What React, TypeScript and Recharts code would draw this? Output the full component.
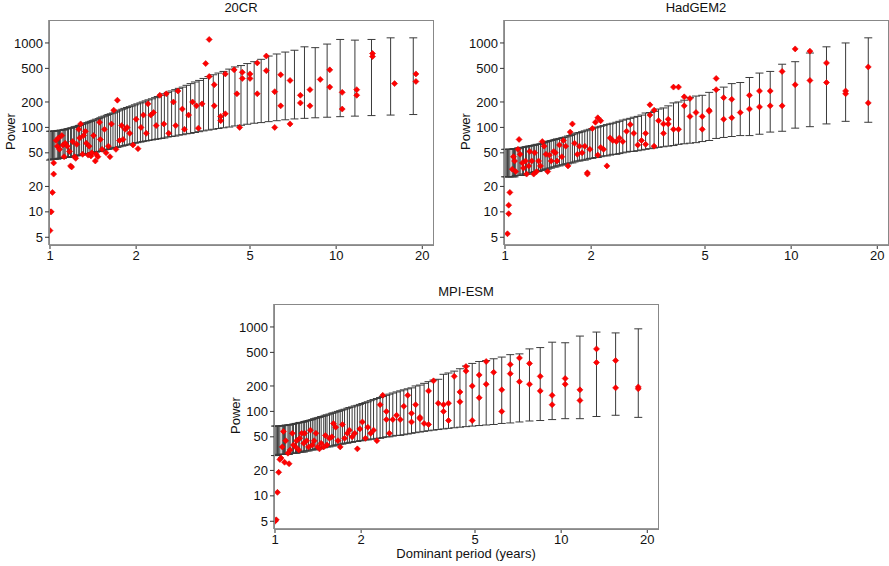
import React from 'react';
import { ScatterChart, Scatter, XAxis, YAxis, ErrorBar } from 'recharts';

const periods = [
  18.6, 15.5, 13.29, 11.63, 10.33, 9.3, 8.45, 7.75, 7.15, 6.64,
  6.2, 5.81, 5.47, 5.17, 4.89, 4.65, 4.43, 4.23, 4.04, 3.88,
  3.72, 3.58, 3.44, 3.32, 3.21, 3.1, 3, 2.91, 2.82, 2.74,
  2.66, 2.58, 2.51, 2.45, 2.38, 2.33, 2.27, 2.21, 2.16, 2.11,
  2.07, 2.02, 1.98, 1.94, 1.9, 1.86, 1.82, 1.79, 1.75, 1.72,
  1.69, 1.66, 1.63, 1.6, 1.58, 1.55, 1.52, 1.5, 1.48, 1.45,
  1.43, 1.41, 1.39, 1.37, 1.35, 1.33, 1.31, 1.29, 1.27, 1.26,
  1.24, 1.22, 1.21, 1.19, 1.18, 1.16, 1.15, 1.13, 1.12, 1.11,
  1.09, 1.08, 1.07, 1.06, 1.04, 1.03, 1.02, 1.01, 1,
];

const lower20CR = [
  142, 140, 138, 136, 134, 132, 130, 128, 126, 123,
  120, 117, 114, 112, 109, 106, 104, 101, 99, 97,
  95, 93, 91, 89, 87, 85, 84, 82, 81, 79,
  78, 77, 75, 74, 73, 72, 71, 70, 69, 68,
  67, 66, 65, 64, 63, 62, 61, 60, 59, 58,
  58, 57, 56, 55, 55, 54, 53, 52, 52, 51,
  51, 50, 50, 49, 49, 48, 48, 47, 47, 47,
  46, 46, 45, 45, 45, 44, 44, 44, 44, 43,
  43, 43, 43, 42, 42, 42, 42, 42, 41,
];
const upper20CR = [
  1150, 1150, 1100, 1080, 1100, 970, 880, 900, 820, 780,
  740, 700, 640, 600, 570, 540, 520, 490, 460, 440,
  420, 400, 380, 360, 345, 330, 315, 300, 290, 280,
  270, 260, 250, 240, 232, 225, 218, 212, 206, 200,
  195, 190, 185, 180, 176, 172, 168, 164, 160, 156,
  152, 148, 145, 142, 139, 136, 133, 130, 127, 125,
  122, 120, 118, 116, 114, 112, 110, 108, 106, 105,
  103, 102, 100, 99, 98, 97, 96, 95, 94, 93,
  93, 92, 92, 91, 91, 90, 90, 90, 90,
];
const lowerHad = [
  115, 118, 110, 102, 98, 90, 88, 83, 80, 80,
  78, 76, 74, 70, 68, 66, 65, 64, 63, 61,
  60, 59, 58, 57, 56, 55, 54, 53, 52, 52,
  51, 50, 49, 48, 48, 47, 46, 46, 45, 44,
  44, 43, 43, 42, 41, 41, 40, 40, 39, 38,
  38, 37, 37, 36, 36, 35, 35, 34, 34, 33,
  33, 32, 32, 32, 31, 31, 30, 30, 30, 29,
  29, 29, 28, 28, 28, 28, 27, 27, 27, 27,
  27, 26, 26, 26, 26, 26, 26, 26, 26,
];
const upperHad = [
  1150, 1000, 900, 760, 600, 560, 460, 440, 390, 340,
  330, 300, 280, 260, 240, 235, 225, 210, 200, 195,
  180, 170, 165, 155, 150, 148, 140, 135, 132, 128,
  125, 122, 118, 115, 112, 110, 108, 105, 103, 101,
  99, 97, 95, 93, 91, 89, 87, 86, 84, 82,
  80, 79, 77, 76, 75, 74, 73, 72, 71, 70,
  69, 68, 67, 66, 65, 64, 63, 63, 62, 61,
  61, 60, 60, 59, 59, 58, 58, 57, 57, 57,
  56, 56, 56, 55, 55, 55, 55, 55, 55,
];
const lowerMPI = [
  85, 90, 87, 82, 82, 80, 78, 77, 75, 73,
  72, 70, 69, 68, 67, 66, 65, 64, 63, 62,
  61, 60, 59, 58, 57, 56, 55, 54, 53, 52,
  52, 51, 50, 50, 49, 48, 48, 47, 47, 46,
  46, 45, 45, 44, 44, 43, 43, 42, 42, 41,
  41, 40, 40, 39, 39, 38, 38, 38, 37, 37,
  36, 36, 36, 35, 35, 35, 34, 34, 34, 33,
  33, 33, 33, 32, 32, 32, 32, 32, 31, 31,
  31, 31, 31, 31, 31, 31, 30, 30, 30,
];
const upperMPI = [
  950, 850, 870, 780, 650, 660, 570, 550, 480, 470,
  440, 420, 400, 390, 370, 345, 320, 300, 285, 275,
  240, 235, 225, 215, 205, 200, 190, 185, 180, 175,
  170, 165, 160, 155, 150, 146, 142, 138, 134, 130,
  127, 124, 121, 118, 116, 113, 111, 109, 106, 104,
  102, 100, 98, 96, 95, 93, 91, 90, 88, 87,
  85, 84, 83, 82, 80, 79, 78, 77, 76, 75,
  74, 74, 73, 72, 72, 71, 70, 70, 69, 69,
  69, 68, 68, 68, 67, 67, 67, 67, 67,
];

const points20CR: [number, number][] = [
  [1, 6], [1, 10], [1.01, 10], [1.02, 17], [1.03, 28], [1.03, 38], [1.05, 70], [1.06, 60], [1.07, 75], [1.08, 55],
  [1.1, 80], [1.11, 62], [1.12, 45], [1.13, 65], [1.15, 60], [1.17, 52], [1.18, 35], [1.19, 34], [1.2, 68], [1.22, 45],
  [1.23, 43], [1.24, 63], [1.26, 95], [1.27, 75], [1.28, 110], [1.3, 48], [1.31, 80], [1.33, 90], [1.34, 65], [1.36, 47],
  [1.37, 60], [1.39, 46], [1.4, 50], [1.42, 80], [1.44, 40], [1.45, 48], [1.47, 45], [1.49, 115], [1.5, 72], [1.52, 55],
  [1.55, 95], [1.57, 50], [1.6, 60], [1.62, 45], [1.64, 110], [1.67, 160], [1.7, 55], [1.72, 210], [1.75, 70], [1.78, 105],
  [1.8, 72], [1.83, 95], [1.86, 100], [1.9, 85], [1.95, 62], [2.0, 125], [2.03, 56], [2.08, 100], [2.12, 140], [2.17, 85],
  [2.2, 190], [2.25, 140], [2.3, 150], [2.35, 105], [2.42, 240], [2.5, 110], [2.55, 250], [2.6, 85], [2.7, 200], [2.75, 105],
  [2.8, 270], [2.9, 165], [2.95, 95], [3.05, 140], [3.15, 200], [3.25, 180], [3.3, 98], [3.4, 190], [3.5, 570], [3.6, 1100],
  [3.6, 400], [3.75, 320], [3.75, 180], [3.95, 135], [3.95, 120], [4.1, 430], [4.1, 145], [4.4, 480], [4.5, 250], [4.6, 100],
  [4.7, 450], [4.7, 380], [5.0, 430], [5.0, 380], [5.3, 580], [5.3, 250], [5.7, 700], [5.7, 470], [6.1, 100], [6.1, 265],
  [6.4, 420], [6.4, 180], [6.9, 110], [6.9, 360], [7.5, 240], [7.5, 195], [8.1, 280], [8.1, 180], [8.8, 370], [9.5, 480],
  [9.5, 300], [10.5, 260], [10.5, 165], [11.8, 280], [11.8, 240], [13.4, 750], [13.4, 690], [16, 330], [19, 430], [19, 350],
];

const pointsHad: [number, number][] = [
  [18.6, 520], [18.6, 195], [15.5, 270], [15.5, 250], [13.29, 580], [13.29, 340], [11.63, 800], [11.63, 360], [10.33, 850], [10.33, 320],
  [9.3, 460], [9.3, 180], [8.45, 270], [8.45, 180], [7.75, 270], [7.75, 175], [7.15, 240], [7.15, 165], [6.64, 150], [6.2, 215],
  [6.2, 130], [5.81, 225], [5.81, 125], [5.47, 380], [5.47, 280], [5.17, 160], [5.17, 155], [4.89, 95], [4.89, 135], [4.65, 150],
  [4.43, 135], [4.43, 220], [4.23, 230], [4.23, 180], [4.04, 300], [4.04, 95], [3.88, 300], [3.88, 95], [3.72, 110], [3.72, 125],
  [3.58, 85], [3.58, 110], [3.44, 120], [3.32, 160], [3.32, 60], [3.21, 185], [3.21, 140], [3.1, 63], [3.1, 85], [3, 70],
  [2.91, 62], [2.82, 85], [2.74, 108], [2.66, 90], [2.58, 68], [2.51, 75], [2.45, 68], [2.38, 70], [2.33, 75], [2.27, 35],
  [2.21, 55], [2.16, 58], [2.11, 47], [2.16, 120], [2.11, 130], [2.07, 115], [2.02, 97], [1.98, 55], [1.94, 29], [1.94, 28],
  [1.9, 60], [1.86, 50], [1.82, 60], [1.79, 48], [1.75, 65], [1.72, 110], [1.69, 88], [1.66, 35], [1.63, 60], [1.6, 70],
  [1.58, 45], [1.55, 62], [1.52, 40], [1.5, 50], [1.48, 52], [1.45, 40], [1.43, 47], [1.41, 30], [1.39, 48], [1.37, 60],
  [1.35, 68], [1.33, 35], [1.31, 40], [1.29, 30], [1.27, 50], [1.26, 28], [1.24, 40], [1.22, 52], [1.21, 35], [1.19, 28],
  [1.18, 40], [1.16, 33], [1.15, 38], [1.13, 48], [1.12, 72], [1.11, 55], [1.09, 30], [1.08, 40], [1.07, 45], [1.06, 32],
  [1.04, 17], [1.03, 12], [1.03, 9.5], [1.02, 5.5],
];

const pointsMPI: [number, number][] = [
  [18.6, 195], [18.6, 185], [15.5, 400], [15.5, 190], [13.29, 550], [13.29, 380], [11.63, 180], [11.63, 135], [10.33, 245], [10.33, 210],
  [9.3, 155], [9.3, 120], [8.45, 260], [8.45, 175], [7.75, 370], [7.75, 210], [7.15, 430], [7.15, 225], [6.64, 360], [6.64, 280],
  [6.2, 180], [6.2, 100], [5.81, 290], [5.47, 390], [5.47, 210], [5.17, 270], [5.17, 145], [4.89, 200], [4.89, 78], [4.65, 340],
  [4.65, 300], [4.43, 170], [4.43, 130], [4.23, 260], [4.04, 125], [4.04, 78], [3.88, 100], [3.88, 120], [3.72, 125], [3.58, 230],
  [3.44, 175], [3.44, 70], [3.32, 72], [3.21, 85], [3.21, 82], [3.1, 120], [3, 95], [3, 75], [2.91, 155], [2.82, 115],
  [2.74, 80], [2.66, 90], [2.58, 80], [2.51, 55], [2.45, 100], [2.45, 80], [2.38, 155], [2.33, 120], [2.27, 45], [2.21, 60],
  [2.16, 55], [2.11, 65], [2.07, 48], [2.02, 75], [1.98, 62], [1.94, 36], [1.9, 55], [1.86, 50], [1.82, 60], [1.79, 55],
  [1.75, 48], [1.72, 70], [1.69, 38], [1.66, 45], [1.63, 65], [1.6, 72], [1.58, 50], [1.55, 48], [1.52, 40], [1.5, 52],
  [1.48, 38], [1.45, 42], [1.43, 36], [1.41, 38], [1.39, 55], [1.37, 45], [1.35, 40], [1.33, 60], [1.31, 38], [1.29, 45],
  [1.27, 55], [1.26, 42], [1.24, 55], [1.22, 48], [1.21, 35], [1.19, 45], [1.18, 38], [1.16, 40], [1.15, 55], [1.13, 35],
  [1.12, 24], [1.11, 32], [1.09, 45], [1.08, 25], [1.07, 58], [1.06, 38], [1.05, 28], [1.04, 27], [1.03, 19], [1.02, 11],
  [1.01, 5.2], [1.0, 5],
];

const xTicks = [1, 2, 5, 10, 20];
const yTicks = [5, 10, 20, 50, 100, 200, 500, 1000];

const FONT = '"Liberation Sans", Arial, sans-serif';

const Diamond = (props: any) => {
  const { cx, cy } = props;
  if (cx == null || cy == null) return <g />;
  const r = 3;
  return <polygon points={`${cx},${cy - r} ${cx + r},${cy} ${cx},${cy + r} ${cx - r},${cy}`} fill="#ff0000" stroke="#e00000" strokeWidth={0.6} />;
};
const Empty = () => <g />;

function Panel({ title, lower, upper, points, left, top, xLabel }: any) {
  const bars = periods.map((p, i) => ({ x: p, y: lower[i], err: [0, upper[i] - lower[i]] }));
  const pts = points.map((d: [number, number]) => ({ x: d[0], y: d[1] }));
  const W = 440, H = 275;
  return (
    <div style={{ position: 'absolute', left, top, width: W, height: H }}>
      <ScatterChart width={W} height={H} margin={{ top: 20, right: 7, bottom: 0, left: 0 }}>
        <XAxis
          type="number" dataKey="x" scale="log" domain={[0.992, 21.8]} ticks={xTicks}
          allowDataOverflow height={30} tickSize={4} stroke="#333" interval={0}
          tick={{ fill: '#111', fontSize: 13, fontFamily: FONT }}
        />
        <YAxis
          type="number" dataKey="y" scale="log" domain={[4.05, 1870]} ticks={yTicks}
          allowDataOverflow width={49} tickSize={4} stroke="#333" interval={0}
          tick={{ fill: '#111', fontSize: 13, fontFamily: FONT }}
        />
        <Scatter data={bars} shape={Empty} isAnimationActive={false}>
          <ErrorBar dataKey="err" direction="y" width={4} stroke="#3a3a3a" strokeWidth={1} isAnimationActive={false} />
        </Scatter>
        <Scatter data={pts} shape={Diamond} isAnimationActive={false} />
      </ScatterChart>
      <div style={{ position: 'absolute', left: 49, top: 20, width: 383, height: 224, border: '1px solid #888', pointerEvents: 'none' }} />
      <div style={{ position: 'absolute', left: 49, top: 0, width: 384, textAlign: 'center', fontFamily: FONT, fontSize: 13, color: '#111' }}>{title}</div>
      <div style={{ position: 'absolute', left: -20, top: 124, width: 60, textAlign: 'center', fontFamily: FONT, fontSize: 13, color: '#111', transform: 'rotate(-90deg)' }}>Power</div>
      {xLabel ? (
        <div style={{ position: 'absolute', left: 49, top: 262, width: 384, textAlign: 'center', fontFamily: FONT, fontSize: 13, color: '#111' }}>{xLabel}</div>
      ) : null}
    </div>
  );
}

export default function App() {
  return (
    <div style={{ position: 'absolute', left: 0, top: 0, width: 889, height: 566, background: '#fff', overflow: 'hidden' }}>
      <Panel title="20CR" lower={lower20CR} upper={upper20CR} points={points20CR} left={0} top={0} />
      <Panel title="HadGEM2" lower={lowerHad} upper={upperHad} points={pointsHad} left={455} top={0} />
      <Panel title="MPI-ESM" lower={lowerMPI} upper={upperMPI} points={pointsMPI} left={225} top={284} xLabel="Dominant period (years)" />
    </div>
  );
}
